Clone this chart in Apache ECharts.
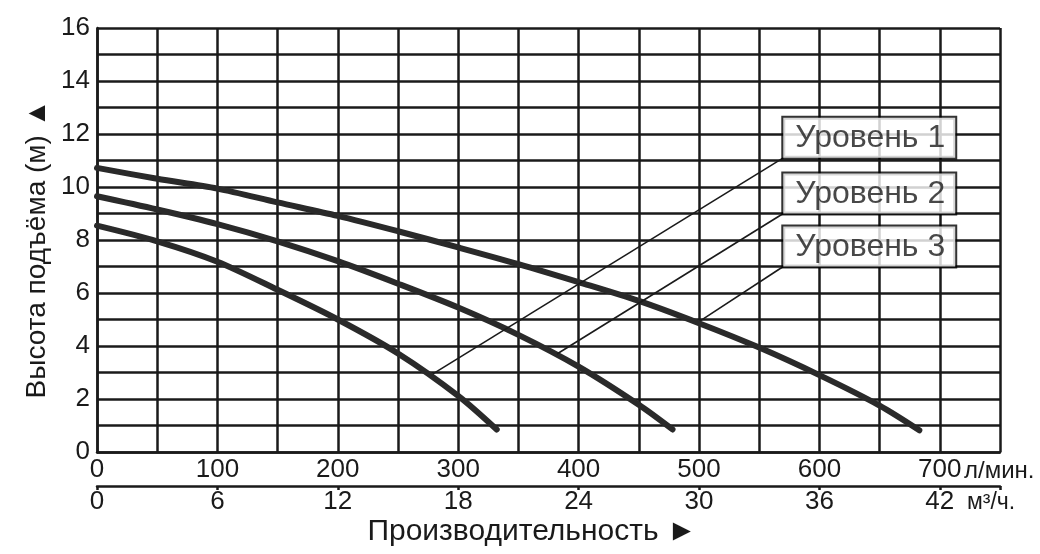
<!DOCTYPE html>
<html>
<head>
<meta charset="utf-8">
<script src="https://cdn.jsdelivr.net/npm/echarts@6/dist/echarts.min.js"></script>
<style>html,body{margin:0;padding:0;background:#fff;}#c{width:1040px;height:554px;}</style>
</head>
<body>
<div id="c"></div>
<script>
// Flow (l/min) vs head (m) for each level
const level1Flow = [0, 50, 100, 150, 200, 250, 300, 332];
const level1Head = [8.54, 7.95, 7.18, 6.12, 5.0, 3.72, 2.12, 0.85];
const level2Flow = [0, 50, 100, 150, 200, 250, 300, 350, 400, 450, 478];
const level2Head = [9.65, 9.15, 8.6, 7.95, 7.2, 6.35, 5.45, 4.42, 3.22, 1.78, 0.85];
const level3Flow = [0, 50, 100, 150, 200, 250, 300, 350, 400, 450, 500, 550, 600, 650, 683];
const level3Head = [10.72, 10.31, 9.94, 9.42, 8.91, 8.33, 7.72, 7.09, 6.41, 5.7, 4.86, 3.94, 2.9, 1.75, 0.82];

const levelNames = ['Уровень 1', 'Уровень 2', 'Уровень 3'];
const leaderFrom = [[279, 2.95], [382, 3.7], [501, 4.95]];
const leaderTo = [[570, 11.1], [570, 9.0], [570, 7.0]];

const yTicks = [0, 2, 4, 6, 8, 10, 12, 14, 16];
const xTicksLmin = [0, 100, 200, 300, 400, 500, 600, 700];
const xTicksM3h = [0, 6, 12, 18, 24, 30, 36, 42];

const FONT = '"Liberation Sans", Arial, sans-serif';
const INK = '#1a1a1a';

function pairs(xs, ys) { return xs.map((x, i) => [x, ys[i]]); }

const curveStyle = { width: 6, color: '#2a2a2a', cap: 'round', join: 'round' };
const series = [
  { name: levelNames[0], type: 'line', data: pairs(level1Flow, level1Head) },
  { name: levelNames[1], type: 'line', data: pairs(level2Flow, level2Head) },
  { name: levelNames[2], type: 'line', data: pairs(level3Flow, level3Head) }
].map(s => Object.assign(s, { smooth: 0.3, showSymbol: false, symbol: 'none', lineStyle: curveStyle, z: 3, silent: true }));

levelNames.forEach((n, i) => {
  series.push({
    type: 'line', data: [leaderFrom[i], leaderTo[i]], showSymbol: false, symbol: 'none',
    lineStyle: { width: 1.6, color: INK }, z: 4, silent: true
  });
});

series.push({
  type: 'scatter', symbolSize: 0, z: 6, silent: true,
  data: levelNames.map((n, i) => ({ value: leaderTo[i], name: n })),
  label: {
    show: true, position: [0, 0], align: 'left', verticalAlign: 'bottom',
    formatter: p => p.name,
    fontFamily: FONT, fontSize: 32, color: INK, lineHeight: 35,
    backgroundColor: '#fff', borderColor: '#000', borderWidth: 2,
    padding: [3, 10, 2, 12]
  }
});

const chart = echarts.init(document.getElementById('c'), null, { renderer: 'canvas' });
chart.setOption({
  animation: false,
  backgroundColor: '#fff',
  grid: { left: 97, right: 40, top: 28, bottom: 102, containLabel: false },
  xAxis: [
    {
      type: 'value', min: 0, max: 750, interval: 50, position: 'bottom',
      axisLine: { show: true, onZero: false, lineStyle: { color: INK, width: 2.5 } },
      axisTick: { show: false },
      splitLine: { show: true, lineStyle: { color: INK, width: 2.5 } },
      axisLabel: {
        margin: 5, fontFamily: FONT, fontSize: 26, color: INK,
        formatter: v => xTicksLmin.indexOf(v) >= 0 ? String(v) : ''
      }
    },
    {
      type: 'value', min: 0, max: 45, interval: 6, position: 'bottom', offset: 34,
      axisLine: { show: true, onZero: false, lineStyle: { color: INK, width: 2.5 } },
      axisTick: { show: true, length: 4, lineStyle: { color: INK, width: 2.5 } },
      splitLine: { show: false },
      axisLabel: {
        margin: 3, fontFamily: FONT, fontSize: 26, color: INK,
        formatter: v => xTicksM3h.indexOf(v) >= 0 ? String(v) : ''
      }
    }
  ],
  yAxis: {
    type: 'value', min: 0, max: 16, interval: 1,
    axisLine: { show: true, lineStyle: { color: INK, width: 2.5 } },
    axisTick: { show: false },
    splitLine: { show: true, lineStyle: { color: INK, width: 2.5 } },
    axisLabel: {
      margin: 7, fontFamily: FONT, fontSize: 26, color: INK,
      formatter: v => yTicks.indexOf(v) >= 0 ? String(v) : ''
    }
  },
  graphic: [
    { type: 'text', x: 964, y: 471, style: { text: 'л/мин.', font: '24px ' + FONT, fill: INK, textVerticalAlign: 'middle' } },
    { type: 'text', x: 967, y: 503, style: { text: 'м³/ч.', font: '23px ' + FONT, fill: INK, textVerticalAlign: 'middle' } },
    { type: 'text', x: 532, y: 532, style: { text: 'Производительность ►', font: '30px ' + FONT, fill: INK, textAlign: 'center', textVerticalAlign: 'middle' } },
    { type: 'text', x: 37, y: 249, rotation: Math.PI / 2, style: { text: 'Высота подъёма (м) ▲', font: '28px ' + FONT, fill: INK, textAlign: 'center', textVerticalAlign: 'middle' } }
  ],
  series: series
});
</script>
</body>
</html>
